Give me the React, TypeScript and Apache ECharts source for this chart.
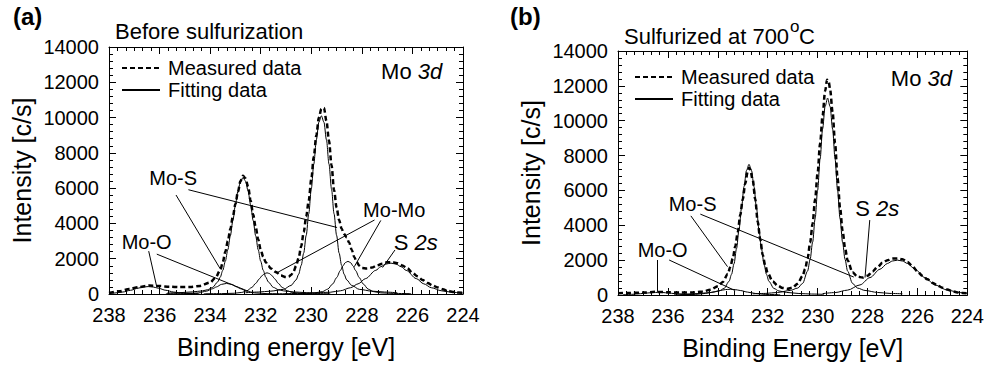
import React, { useEffect, useRef } from "react";
import * as echarts from "echarts";

const FONT = '"Liberation Sans", Arial, Helvetica, sans-serif';

// ---------- Panel (a): Before sulfurization ----------
const measuredA: [number, number][] = [
  [238.0, 60], [237.6, 150], [237.2, 280], [236.8, 400], [236.4, 480], [236.0, 450], [235.6, 410],
  [235.2, 390], [234.8, 400], [234.4, 460], [234.0, 650], [233.8, 900], [233.6, 1350], [233.5, 1800],
  [233.4, 2400], [233.3, 3000], [233.2, 3700], [233.1, 4400], [233.0, 5100], [232.9, 5800], [232.8, 6400],
  [232.7, 6700], [232.6, 6550], [232.5, 6100], [232.4, 5300], [232.3, 4500], [232.2, 3800], [232.1, 3100],
  [232.0, 2500], [231.9, 2100], [231.8, 1800], [231.7, 1600], [231.6, 1450], [231.4, 1250], [231.2, 1050],
  [231.0, 960], [230.9, 980], [230.8, 1080], [230.7, 1280], [230.6, 1600], [230.5, 2050], [230.4, 2700],
  [230.3, 3500], [230.2, 4400], [230.1, 5300], [230.0, 6500], [229.9, 7800], [229.8, 9000], [229.7, 10000],
  [229.6, 10500], [229.5, 10550], [229.4, 9800], [229.3, 8700], [229.2, 7300], [229.1, 5900], [229.0, 4900],
  [228.9, 4200], [228.8, 3700], [228.7, 3400], [228.6, 3200], [228.5, 2900], [228.4, 2500], [228.3, 2100],
  [228.2, 1800], [228.1, 1600], [228.0, 1480], [227.8, 1440], [227.6, 1500], [227.4, 1620], [227.2, 1720],
  [227.0, 1800], [226.8, 1800], [226.6, 1750], [226.4, 1620], [226.2, 1450], [226.0, 1200], [225.8, 1000],
  [225.6, 800], [225.4, 620], [225.2, 480], [225.0, 370], [224.8, 270], [224.6, 180], [224.4, 120],
  [224.2, 80], [224.0, 60],
];
const moS1A: [number, number][] = [
  [235.7, 53], [235.2, 76], [234.7, 119], [234.3, 178], [234.1, 244], [233.9, 376], [233.7, 686], [233.6, 957],
  [233.5, 1340], [233.4, 1855], [233.3, 2515], [233.2, 3300], [233.1, 4171], [233.0, 5056], [232.9, 5841],
  [232.8, 6395], [232.7, 6600], [232.6, 6395], [232.5, 5841], [232.4, 5056], [232.3, 4171], [232.2, 3300],
  [232.1, 2515], [232.0, 1855], [231.9, 1340], [231.8, 957], [231.7, 686], [231.5, 376], [231.3, 244],
  [231.1, 178], [230.7, 119], [230.2, 76], [229.7, 53],
];
const moS2A: [number, number][] = [
  [232.6, 71], [232.1, 111], [231.6, 162], [231.1, 263], [230.8, 485], [230.6, 800], [230.5, 1120],
  [230.4, 1620], [230.3, 2320], [230.2, 3330], [230.1, 4550], [230.0, 5960], [229.9, 7370], [229.8, 8740],
  [229.7, 9740], [229.6, 10100], [229.5, 9740], [229.4, 8740], [229.3, 7370], [229.2, 5960], [229.1, 4550],
  [229.0, 3330], [228.9, 2320], [228.8, 1620], [228.7, 1120], [228.6, 800], [228.4, 485], [228.1, 263],
  [227.6, 162], [227.1, 111], [226.6, 71],
];
const moMo1A: [number, number][] = [
  [234.25, 11], [233.55, 22], [233.05, 42], [232.75, 90], [232.55, 180], [232.35, 372], [232.2, 600],
  [232.05, 864], [231.95, 1034], [231.85, 1156], [231.75, 1200], [231.65, 1156], [231.55, 1034],
  [231.45, 864], [231.3, 600], [231.15, 372], [230.95, 180], [230.75, 90], [230.45, 42], [229.95, 22],
  [229.25, 11],
];
const moMo2A: [number, number][] = [
  [231.05, 17], [230.35, 33], [229.85, 65], [229.55, 139], [229.35, 278], [229.15, 574], [229.0, 925],
  [228.85, 1332], [228.75, 1595], [228.65, 1782], [228.55, 1850], [228.45, 1782], [228.35, 1595],
  [228.25, 1332], [228.1, 925], [227.95, 574], [227.75, 278], [227.55, 139], [227.25, 65], [226.75, 33],
  [226.05, 17],
];
const moO1A: [number, number][] = [
  [238.0, 35], [237.85, 44], [237.45, 113], [237.15, 210], [236.85, 328], [236.65, 395], [236.45, 420],
  [236.25, 395], [236.05, 328], [235.75, 210], [235.45, 113], [235.05, 44], [234.45, 15],
];
const moO2A: [number, number][] = [
  [235.75, 10], [234.95, 21], [234.45, 62], [234.15, 162], [233.9, 300], [233.75, 402], [233.55, 546],
  [233.35, 600], [233.15, 546], [232.95, 402], [232.8, 300], [232.55, 162], [232.25, 62], [231.75, 21],
  [230.95, 10],
];
const s2sA: [number, number][] = [
  [229.85, 54], [229.25, 100], [228.85, 182], [228.45, 355], [228.15, 575], [227.85, 875], [227.45, 1341],
  [227.25, 1549], [227.05, 1696], [226.85, 1750], [226.65, 1696], [226.45, 1549], [226.25, 1341],
  [225.85, 875], [225.55, 575], [225.25, 355], [224.85, 182], [224.45, 100], [224.0, 50],
];

// ---------- Panel (b): Sulfurized at 700 C ----------
const measuredB: [number, number][] = [
  [238.0, 100], [237.5, 120], [237.0, 140], [236.5, 180], [236.0, 160], [235.5, 140], [235.0, 150],
  [234.6, 200], [234.3, 300], [234.0, 500], [233.8, 750], [233.6, 1200], [233.5, 1600], [233.4, 2100],
  [233.3, 2800], [233.2, 3600], [233.1, 4600], [233.0, 5500], [232.9, 6400], [232.8, 7100], [232.75, 7300],
  [232.7, 7200], [232.6, 6600], [232.5, 5500], [232.4, 4200], [232.3, 3200], [232.2, 2300], [232.1, 1700],
  [232.0, 1250], [231.8, 780], [231.6, 530], [231.4, 400], [231.2, 360], [231.0, 420], [230.8, 650],
  [230.6, 1100], [230.5, 1500], [230.4, 2100], [230.3, 3000], [230.2, 4100], [230.1, 5500], [230.0, 7000],
  [229.9, 8700], [229.8, 10300], [229.7, 11700], [229.62, 12350], [229.55, 12200], [229.5, 11800],
  [229.4, 10500], [229.3, 8700], [229.2, 6700], [229.1, 5000], [229.0, 3700], [228.9, 2700], [228.8, 2000],
  [228.6, 1300], [228.4, 1050], [228.2, 1000], [228.0, 1100], [227.8, 1350], [227.6, 1600], [227.4, 1850],
  [227.2, 2000], [227.0, 2100], [226.8, 2100], [226.6, 2050], [226.4, 1900], [226.2, 1650], [226.0, 1350],
  [225.8, 1100], [225.6, 900], [225.4, 700], [225.2, 550], [225.0, 420], [224.8, 320], [224.6, 220],
  [224.4, 150], [224.2, 120], [224.0, 100],
];
const moS1B: [number, number][] = [
  [235.75, 38], [235.25, 56], [234.75, 86], [234.25, 150], [233.95, 233], [233.75, 375], [233.55, 780],
  [233.45, 1185], [233.35, 1793], [233.25, 2655], [233.15, 3750], [233.05, 4995], [232.95, 6218],
  [232.85, 7148], [232.75, 7500], [232.65, 7148], [232.55, 6218], [232.45, 4995], [232.35, 3750],
  [232.25, 2655], [232.15, 1793], [232.05, 1185], [231.95, 780], [231.75, 375], [231.55, 233],
  [231.25, 150], [230.75, 86], [230.25, 56], [229.75, 38],
];
const moS2B: [number, number][] = [
  [232.6, 68], [232.1, 90], [231.6, 147], [231.1, 260], [230.8, 396], [230.6, 667], [230.4, 1379],
  [230.3, 2045], [230.2, 3028], [230.1, 4373], [230.0, 6000], [229.9, 7797], [229.8, 9526], [229.7, 10814],
  [229.6, 11300], [229.5, 10814], [229.4, 9526], [229.3, 7797], [229.2, 6000], [229.1, 4373], [229.0, 3028],
  [228.9, 2045], [228.8, 1379], [228.6, 667], [228.4, 396], [228.1, 260], [227.6, 147], [227.1, 90],
  [226.6, 68],
];
const moO1B: [number, number][] = [
  [237.8, 16], [237.4, 41], [237.1, 75], [236.8, 117], [236.6, 141], [236.4, 150], [236.2, 141],
  [236.0, 117], [235.7, 75], [235.4, 41], [235.0, 16],
];
const moO2B: [number, number][] = [
  [235.5, 12], [234.9, 34], [234.5, 89], [234.2, 165], [233.9, 257], [233.7, 310], [233.5, 330],
  [233.3, 310], [233.1, 257], [232.8, 165], [232.5, 89], [232.1, 34], [231.5, 12],
];
const s2sB: [number, number][] = [
  [229.8, 80], [229.3, 140], [228.8, 280], [228.3, 580], [227.9, 1000], [227.5, 1480], [227.2, 1810],
  [227.0, 1950], [226.8, 2000], [226.6, 1950], [226.4, 1810], [226.1, 1480], [225.7, 1000], [225.3, 580],
  [224.8, 280], [224.3, 140], [224.0, 90],
];

// ---------- Annotations (in data units) ----------
const labelsA: { text: string; at: [number, number] }[] = [
  { text: "Mo-S", at: [235.46, 6570] },
  { text: "Mo-Mo", at: [226.72, 4740] },
  { text: "Mo-O", at: [236.51, 2940] },
  { text: "{n|S }{i|2s}", at: [225.87, 2940] },
  { text: "{n|Mo }{i|3d}", at: [226.03, 12620] },
];
const leadersA: [number, number, number, number][] = [
  [235.35, 5611, 233.61, 1450],
  [234.86, 5910, 228.98, 3770],
  [227.5, 4194, 231.4, 1173],
  [227.25, 4170, 228.3, 1547],
  [236.43, 2430, 236.11, 400],
  [236.11, 2260, 232.55, 187],
  [226.69, 2494, 227.18, 1500],
];
const labelsB: { text: string; at: [number, number] }[] = [
  { text: "Mo-S", at: [235.01, 5240] },
  { text: "{n|S }{i|2s}", at: [227.61, 4990] },
  { text: "Mo-O", at: [236.21, 2560] },
  { text: "{n|Mo }{i|3d}", at: [225.84, 12450] },
];
const leadersB: [number, number, number, number][] = [
  [235.08, 4540, 233.61, 1624],
  [234.7, 4640, 228.55, 1030],
  [227.91, 4300, 228.1, 1000],
  [236.42, 2008, 236.42, 180],
  [235.95, 2008, 233.3, 250],
];

const xTicks = { min: 224, max: 238, interval: 2 };
const yTicks = { min: 0, max: 14000, interval: 2000 };

function xAxis(gridIndex: number, position: "top" | "bottom", name: string) {
  const main = position === "bottom";
  return {
    type: "value",
    gridIndex,
    position,
    ...xTicks,
    inverse: true,
    axisLine: { show: true, onZero: false, lineStyle: { color: "#000", width: 1 } },
    axisTick: { show: true, inside: true, length: 7, lineStyle: { color: "#000" } },
    minorTick: { show: true, splitNumber: 6, length: 4, lineStyle: { color: "#000" } },
    splitLine: { show: false },
    minorSplitLine: { show: false },
    axisLabel: { show: main, margin: 11, fontSize: 20, color: "#000", fontFamily: FONT },
    name: main ? name : "",
    nameLocation: "middle",
    nameGap: 40,
    nameTextStyle: { fontSize: 25, color: "#000", fontFamily: FONT },
  };
}
function yAxis(gridIndex: number, position: "left" | "right") {
  const main = position === "left";
  return {
    type: "value",
    gridIndex,
    position,
    ...yTicks,
    axisLine: { show: true, onZero: false, lineStyle: { color: "#000", width: 1 } },
    axisTick: { show: true, inside: true, length: 7, lineStyle: { color: "#000" } },
    minorTick: { show: true, splitNumber: 5, length: 4, lineStyle: { color: "#000" } },
    splitLine: { show: false },
    minorSplitLine: { show: false },
    axisLabel: {
      show: main, margin: 10, fontSize: 20, color: "#000", fontFamily: FONT,
      formatter: (v: number) => String(v),
    },
    name: main ? "Intensity [c/s]" : "",
    nameLocation: "middle",
    nameGap: 75,
    nameTextStyle: { fontSize: 25, color: "#000", fontFamily: FONT },
  };
}

function fitSeries(data: [number, number][], axis: number) {
  return {
    type: "line",
    name: "Fitting data",
    data,
    xAxisIndex: axis * 2,
    yAxisIndex: axis * 2,
    symbol: "none",
    smooth: 0.3,
    smoothMonotone: "x",
    lineStyle: { color: "#000", width: 1, type: "solid" },
    itemStyle: { color: "#000" },
    z: 3,
  };
}

function measuredSeries(
  data: [number, number][],
  axis: number,
  labels: { text: string; at: [number, number] }[],
  leaders: [number, number, number, number][]
) {
  return {
    type: "line",
    name: "Measured data",
    data,
    xAxisIndex: axis * 2,
    yAxisIndex: axis * 2,
    symbol: "none",
    smooth: 0.3,
    smoothMonotone: "x",
    lineStyle: { color: "#000", width: 2.5, type: [5, 3] },
    itemStyle: { color: "#000" },
    z: 4,
    markLine: {
      silent: true,
      symbol: ["none", "none"],
      label: { show: false },
      lineStyle: { color: "#000", width: 1, type: "solid" },
      emphasis: { disabled: true },
      data: leaders.map((l) => [{ coord: [l[0], l[1]] }, { coord: [l[2], l[3]] }]),
    },
    markPoint: {
      silent: true,
      symbol: "rect",
      symbolSize: 1,
      itemStyle: { color: "rgba(0,0,0,0)" },
      label: {
        show: true,
        position: "inside",
        color: "#000",
        fontSize: 20,
        fontFamily: FONT,
        rich: {
          n: { fontSize: 22, color: "#000", fontFamily: FONT },
          i: { fontSize: 22, color: "#000", fontFamily: FONT, fontStyle: "italic" },
        },
      },
      data: labels.map((l) => ({ coord: l.at, value: 0, label: { formatter: l.text } })),
    },
  };
}

function legend(left: number, top: number) {
  return {
    left,
    top,
    orient: "vertical",
    selectedMode: false,
    itemWidth: 38,
    itemHeight: 14,
    itemGap: 2,
    padding: 0,
    itemStyle: { opacity: 0 },
    data: ["Measured data", "Fitting data"],
    textStyle: { fontSize: 20, color: "#000", fontFamily: FONT, padding: [0, 0, 0, 3] },
  };
}

export default function App() {
  const ref = useRef<HTMLDivElement>(null);
  useEffect(() => {
    if (!ref.current) return;
    const chart = echarts.init(ref.current, undefined, { renderer: "svg" });
    chart.setOption({
      animation: false,
      backgroundColor: "#fff",
      textStyle: { fontFamily: FONT },
      grid: [
        { left: 109, top: 47, width: 354, height: 247 },
        { left: 618, top: 51, width: 350, height: 244 },
      ],
      xAxis: [
        xAxis(0, "bottom", "Binding energy [eV]"),
        xAxis(0, "top", ""),
        xAxis(1, "bottom", "Binding Energy [eV]"),
        xAxis(1, "top", ""),
      ],
      yAxis: [yAxis(0, "left"), yAxis(0, "right"), yAxis(1, "left"), yAxis(1, "right")],
      legend: [legend(121, 58), legend(634, 67)],
      graphic: [
        { type: "text", left: 13, top: 4, style: { text: "(a)", fill: "#000", font: `bold 24px ${FONT}` } },
        { type: "text", left: 510, top: 4, style: { text: "(b)", fill: "#000", font: `bold 24px ${FONT}` } },
        { type: "text", x: 115, y: 31, style: { text: "Before sulfurization", font: `22px ${FONT}`, fill: "#000", verticalAlign: "middle" } },
        { type: "text", x: 624, y: 36, style: { text: "Sulfurized at 700", font: `22px ${FONT}`, fill: "#000", verticalAlign: "middle" } },
        { type: "text", x: 790, y: 26, style: { text: "o", font: `17px ${FONT}`, fill: "#000", verticalAlign: "middle" } },
        { type: "text", x: 799, y: 36, style: { text: "C", font: `22px ${FONT}`, fill: "#000", verticalAlign: "middle" } },
      ],
      series: [
        measuredSeries(measuredA, 0, labelsA, leadersA),
        fitSeries(moS1A, 0),
        fitSeries(moS2A, 0),
        fitSeries(moMo1A, 0),
        fitSeries(moMo2A, 0),
        fitSeries(moO1A, 0),
        fitSeries(moO2A, 0),
        fitSeries(s2sA, 0),
        measuredSeries(measuredB, 1, labelsB, leadersB),
        fitSeries(moS1B, 1),
        fitSeries(moS2B, 1),
        fitSeries(moO1B, 1),
        fitSeries(moO2B, 1),
        fitSeries(s2sB, 1),
      ],
    });
    return () => chart.dispose();
  }, []);
  return (
    <div
      ref={ref}
      style={{ position: "absolute", left: 0, top: 0, width: 987, height: 367, background: "#fff" }}
    />
  );
}
